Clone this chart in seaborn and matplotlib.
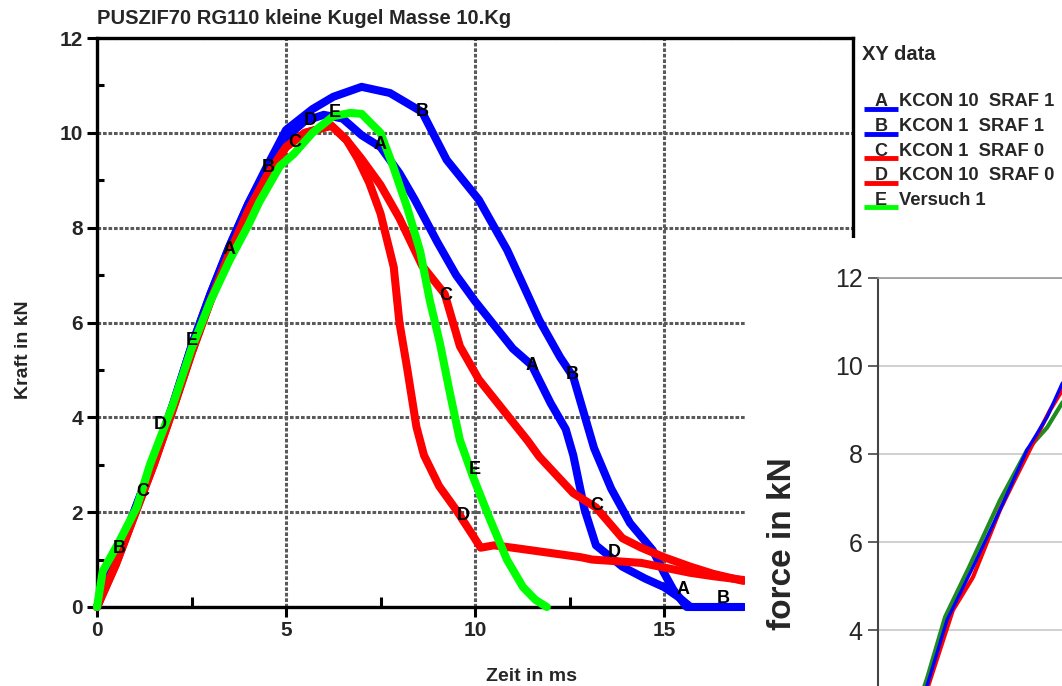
import numpy as np
import pandas as pd
import matplotlib
matplotlib.use("Agg")
import matplotlib.pyplot as plt
from matplotlib.lines import Line2D
from matplotlib.patches import Rectangle
import seaborn as sns

# ---------------- data (main chart: force vs time) ----------------
a_x = [0, 0.5, 1.0, 1.5, 2.0, 2.5, 3.0, 3.5, 4.0, 4.5, 5.0, 5.5, 6.0, 6.5, 7.0, 7.5, 8.0, 8.4,
       9.0, 9.5, 10.0, 10.6, 11.0, 11.5, 12.0, 12.4, 12.6, 12.9, 13.2, 13.9, 14.5, 15.0, 15.4, 15.7, 17.1]
a_y = [0, 1.0, 2.05, 3.1, 4.25, 5.5, 6.6, 7.6, 8.5, 9.25, 9.9, 10.25, 10.38, 10.3, 9.95, 9.7, 9.15, 8.6,
       7.7, 7.0, 6.45, 5.85, 5.45, 5.1, 4.3, 3.75, 3.2, 2.05, 1.3, 0.85, 0.6, 0.42, 0.2, 0.0, 0.0]

b_x = [0, 0.5, 1.0, 1.5, 2.0, 2.5, 3.0, 3.5, 4.0, 4.5, 5.0, 5.7, 6.25, 7.0, 7.75, 8.6, 9.25, 10.1,
       10.85, 11.7, 12.25, 12.6, 13.15, 13.6, 14.1, 14.7, 15.0, 15.25, 15.6, 17.1]
b_y = [0, 1.0, 2.05, 3.1, 4.25, 5.5, 6.6, 7.6, 8.5, 9.3, 10.06, 10.5, 10.76, 10.97, 10.84, 10.44, 9.43, 8.59,
       7.53, 6.05, 5.27, 4.85, 3.35, 2.5, 1.77, 1.2, 0.72, 0.36, 0.0, 0.0]

c_x = [0, 0.5, 1.0, 1.5, 2.0, 2.5, 3.0, 3.5, 4.0, 4.5, 5.0, 5.5, 6.2, 6.6, 7.0, 7.5, 8.0, 8.6, 9.2,
       9.6, 10.1, 10.7, 11.4, 11.7, 12.6, 13.2, 13.9, 14.4, 15.0, 15.7, 16.3, 17.1]
c_y = [0, 0.9, 1.95, 3.0, 4.15, 5.35, 6.45, 7.45, 8.35, 9.1, 9.7, 10.0, 10.15, 9.85, 9.45, 8.9, 8.2, 7.2, 6.6,
       5.5, 4.8, 4.2, 3.5, 3.17, 2.4, 2.1, 1.45, 1.25, 1.05, 0.85, 0.7, 0.55]

d_x = [0, 0.5, 1.0, 1.5, 2.0, 2.5, 3.0, 3.5, 4.0, 4.5, 5.0, 5.5, 6.2, 6.6, 6.9, 7.2, 7.5, 7.85, 8.0,
       8.2, 8.45, 8.65, 9.05, 9.5, 9.95, 10.15, 10.5, 11.0, 11.9, 12.8, 13.1, 14.4, 15.7, 16.3, 17.1]
d_y = [0, 0.9, 1.95, 3.0, 4.15, 5.35, 6.45, 7.45, 8.35, 9.1, 9.7, 10.0, 10.15, 9.85, 9.45, 8.95, 8.3, 7.17, 6.0,
       5.06, 3.8, 3.2, 2.55, 2.05, 1.5, 1.25, 1.3, 1.25, 1.15, 1.05, 1.0, 0.93, 0.72, 0.65, 0.57]

e_x = [0, 0.15, 0.6, 1.05, 1.4, 2.0, 2.5, 3.0, 3.5, 4.0, 4.3, 4.84, 5.2, 5.7, 6.25, 6.7, 7.0, 7.5,
       7.84, 8.2, 8.55, 8.8, 9.07, 9.34, 9.6, 9.95, 10.4, 10.85, 11.27, 11.6, 11.9]
e_y = [0, 0.75, 1.4, 2.1, 3.0, 4.25, 5.45, 6.45, 7.3, 8.05, 8.55, 9.3, 9.55, 10.0, 10.35, 10.42, 10.4, 10.0,
       9.28, 8.44, 7.5, 6.48, 5.57, 4.5, 3.52, 2.74, 1.84, 0.99, 0.42, 0.15, 0.0]

series_keys = ["A", "B", "C", "D", "E"]
series_labels = ["KCON 10  SRAF 1", "KCON 1  SRAF 1", "KCON 1  SRAF 0", "KCON 10  SRAF 0", "Versuch 1"]
series_colors = ["#0000FF", "#0000FF", "#FF0000", "#FF0000", "#00FF00"]

# letter markers placed on the curves (x, y)
mark_A = [(3.5, 7.53), (7.49, 9.75), (11.5, 5.1), (15.5, 0.36)]
mark_B = [(0.6, 1.24), (4.52, 9.26), (8.6, 10.44), (12.57, 4.9), (16.56, 0.17)]
mark_C = [(1.22, 2.43), (5.24, 9.79), (9.23, 6.56), (13.23, 2.15)]
mark_D = [(1.67, 3.84), (5.63, 10.27), (9.68, 1.94), (13.68, 1.14)]
mark_E = [(2.5, 5.63), (6.3, 10.42), (10.0, 2.9)]

# ---------------- data (second chart, partially visible) ----------------
in_blue_x = [0, 1.0, 1.27, 1.79, 2.46, 3.16, 3.86, 4.38, 4.77, 5.2, 5.7]
in_blue_y = [0, 2.1, 2.73, 4.23, 5.43, 6.73, 8.09, 8.84, 9.6, 10.1, 10.5]
in_red_x = [0, 1.0, 1.29, 1.94, 2.46, 3.16, 3.5, 4.02, 4.46, 4.77, 5.2, 5.7]
in_red_y = [0, 2.0, 2.7, 4.45, 5.2, 6.73, 7.34, 8.25, 9.0, 9.45, 9.9, 10.2]
in_green_x = [0, 1.0, 1.27, 1.74, 2.36, 3.16, 3.86, 4.38, 4.77, 5.2, 5.7]
in_green_y = [0, 2.2, 2.9, 4.3, 5.43, 6.95, 8.09, 8.6, 9.16, 9.6, 10.0]
in_yticks = [4, 6, 8, 10, 12]

# ---------------- figure ----------------
sns.set_style("white")
plt.rcParams["font.family"] = ["Liberation Sans", "DejaVu Sans"]

W, H = 1062, 686
fig = plt.figure(figsize=(W / 100, H / 100), dpi=100)

def fx(px):
    return px / W

def fy(py):
    return 1 - py / H

ax = fig.add_axes([fx(97), fy(607), (853 - 97) / W, (607 - 38) / H])

rows = []
for key, xs, ys in zip(series_keys, [a_x, b_x, c_x, d_x, e_x], [a_y, b_y, c_y, d_y, e_y]):
    for x, y in zip(xs, ys):
        rows.append({"series": key, "t": x, "F": y})
df = pd.DataFrame(rows)

pal = dict(zip(series_keys, series_colors))
sns.lineplot(data=df, x="t", y="F", hue="series", palette=pal, sort=False,
             estimator=None, linewidth=5.8, legend=False, ax=ax)
for ln in ax.get_lines():
    ln.set_clip_on(False)
    ln.set_zorder(3)
    ln.set_solid_joinstyle("round")

for key, marks in zip(series_keys, [mark_A, mark_B, mark_C, mark_D, mark_E]):
    for (x, y) in marks:
        ax.text(x, y, key, ha="center", va="center", fontsize=13, fontweight="bold",
                color="black", zorder=5, clip_on=False)

ax.set_xlim(0, 20)
ax.set_ylim(0, 12)
ax.set_xticks([0, 5, 10, 15, 20])
ax.set_xticklabels(["0", "5", "10", "15", ""])
ax.set_xticks([2.5, 7.5, 12.5, 17.5], minor=True)
ax.set_yticks([0, 2, 4, 6, 8, 10, 12])
ax.set_yticks([1, 3, 5, 7, 9, 11], minor=True)
ax.tick_params(axis="both", which="major", direction="out", length=7, width=2.2,
               color="black", labelsize=15, pad=3)
ax.tick_params(axis="x", which="minor", direction="in", length=7, width=2.2, color="black")
ax.tick_params(axis="y", which="minor", direction="in", length=5, width=2.2, color="black")
ax.tick_params(bottom=True, left=True, which="both")
for lbl in ax.get_xticklabels() + ax.get_yticklabels():
    lbl.set_fontweight("bold")

ax.grid(True, which="major", color="#5a5a5a", linewidth=2.2, linestyle=(0, (1.2, 0.6)))
for s in ax.spines.values():
    s.set_color("black")
    s.set_linewidth(2.4)
    s.set_visible(True)

ax.set_xlabel("Zeit in ms", fontsize=14, fontweight="bold")
ax.xaxis.set_label_coords((532 - 97) / 756, (607 - 668) / 569)
ax.set_ylabel("Kraft in kN", fontsize=14, fontweight="bold")
ax.yaxis.set_label_coords((32 - 97) / 756, (607 - 350) / 569)

fig.text(fx(97), fy(18), "PUSZIF70 RG110 kleine Kugel Masse 10.Kg", fontsize=14.5,
         fontweight="bold", ha="left", va="center")

# legend block
fig.text(fx(862), fy(55), "XY data", fontsize=14.5, fontweight="bold", ha="left", va="center")
for i, (key, lab, col) in enumerate(zip(series_keys, series_labels, series_colors)):
    yl = 109 + 24.5 * i
    fig.add_artist(Line2D([fx(864), fx(898)], [fy(yl), fy(yl)], color=col, linewidth=3.5,
                          transform=fig.transFigure, solid_capstyle="butt"))
    fig.text(fx(881), fy(yl - 7), key, fontsize=13, fontweight="bold", ha="center", va="center")
    fig.text(fx(899), fy(yl - 7), lab, fontsize=13.2, fontweight="bold", ha="left", va="center")

# white panel of the second, overlapping chart
fig.add_artist(Rectangle((fx(745), 0), 1 - fx(745), fy(238), transform=fig.transFigure,
                         facecolor="white", edgecolor="none", zorder=5))

ax2 = fig.add_axes([fx(878), fy(806), 772 / W, 528 / H])
ax2.set_zorder(10)
ax2.set_facecolor("white")
in_rows = []
for name, xs, ys in [("green", in_green_x, in_green_y), ("red", in_red_x, in_red_y),
                     ("blue", in_blue_x, in_blue_y)]:
    for x, y in zip(xs, ys):
        in_rows.append({"run": name, "t": x, "F": y})
df2 = pd.DataFrame(in_rows)
sns.lineplot(data=df2, x="t", y="F", hue="run",
             palette={"green": "#1E8C1E", "red": "#FF0000", "blue": "#0000FF"},
             sort=False, estimator=None, legend=False, ax=ax2)
for ln in ax2.get_lines():
    c = ln.get_color()
    ln.set_linewidth(3.0 if c != "#0000FF" else 2.4)
ax2.set_xlim(0, 20)
ax2.set_ylim(0, 12)
ax2.set_yticks(in_yticks)
ax2.set_xticks([])
ax2.tick_params(axis="y", direction="out", length=7, width=1.2, color="#444444",
                labelsize=18, pad=4, left=True)
ax2.grid(True, axis="y", color="#c8c8c8", linewidth=1.2)
ax2.spines["left"].set_color("#444444")
ax2.spines["left"].set_linewidth(1.5)
ax2.spines["top"].set_color("#999999")
ax2.spines["top"].set_linewidth(1.2)
ax2.spines["right"].set_visible(False)
ax2.spines["bottom"].set_visible(False)
ax2.set_xlabel("")
ax2.set_ylabel("force in kN", fontsize=24, fontweight="bold")
ax2.yaxis.set_label_coords((798 - 878) / 772, (806 - 544) / 528)

fig.savefig("out.png", dpi=100)
